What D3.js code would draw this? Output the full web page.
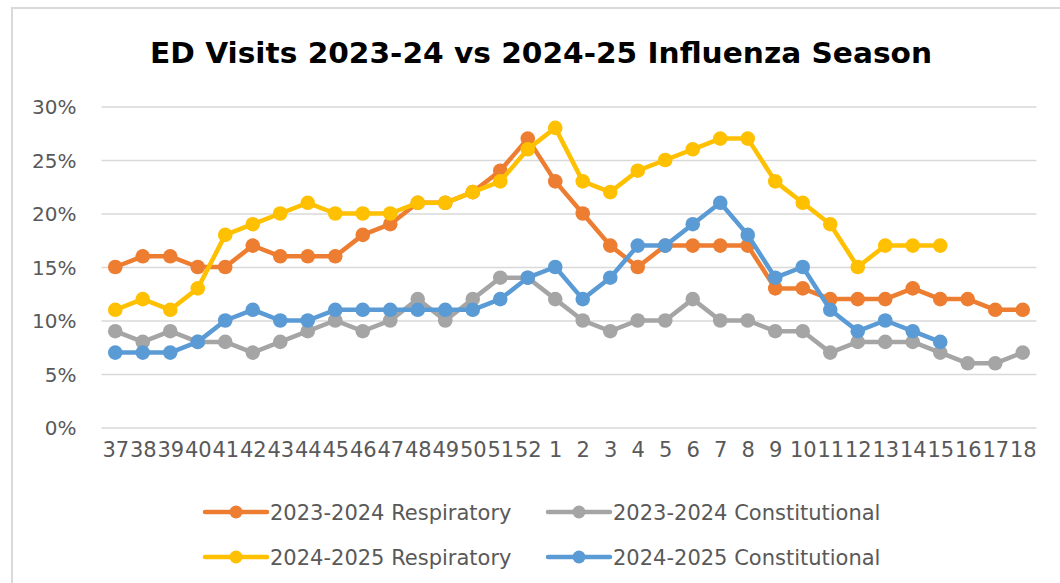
<!DOCTYPE html>
<html>
<head>
<meta charset="utf-8">
<script src="https://cdn.jsdelivr.net/npm/d3@7"></script>
<style>
  body { margin: 0; background: #fff; }
  svg { display: block; }
</style>
</head>
<body>
<svg width="1060" height="583"></svg>
<script>
// week numbers across the season
const weeks = ["37","38","39","40","41","42","43","44","45","46","47","48","49","50","51","52",
  "1","2","3","4","5","6","7","8","9","10","11","12","13","14","15","16","17","18"];

// percent of ED visits
const resp2324 = [15,16,16,15,15,17,16,16,16,18,19,21,21,22,24,27,23,20,17,15,17,17,17,17,13,13,12,12,12,13,12,12,11,11];
const const2324 = [9,8,9,8,8,7,8,9,10,9,10,12,10,12,14,14,12,10,9,10,10,12,10,10,9,9,7,8,8,8,7,6,6,7];
const resp2425 = [11,12,11,13,18,19,20,21,20,20,20,21,21,22,23,26,28,23,22,24,25,26,27,27,23,21,19,15,17,17,17];
const const2425 = [7,7,7,8,10,11,10,10,11,11,11,11,11,11,12,14,15,12,14,17,17,19,21,18,14,15,11,9,10,9,8];

const yTicks = [0, 0.05, 0.10, 0.15, 0.20, 0.25, 0.30];

const series = [
  { name: "2023-2024 Respiratory", values: resp2324, color: "#ED7D31" },
  { name: "2023-2024 Constitutional", values: const2324, color: "#A5A5A5" },
  { name: "2024-2025 Respiratory", values: resp2425, color: "#FFC000" },
  { name: "2024-2025 Constitutional", values: const2425, color: "#5B9BD5" }
];

const svg = d3.select("svg");
const font = "'DejaVu Sans', sans-serif";
const textColor = "#595959";

// chart frame
svg.append("rect")
  .attr("x", 12).attr("y", 8)
  .attr("width", 1070).attr("height", 600)
  .attr("fill", "none")
  .attr("stroke", "#d9d9d9")
  .attr("stroke-width", 2);

// title is drawn wide in the original, stretch it to fit
svg.append("text")
  .attr("x", 150).attr("y", 63)
  .attr("font-family", font)
  .attr("font-weight", "bold")
  .attr("font-size", 27.5)
  .attr("fill", "#000")
  .attr("textLength", 782)
  .attr("lengthAdjust", "spacingAndGlyphs")
  .text("ED Visits 2023-24 vs 2024-25 Influenza Season");

const plotLeft = 101.5, plotRight = 1036.5, plotTop = 106.5, plotBottom = 427.5;

let x = d3.scalePoint()
  .domain(weeks)
  .range([plotLeft, plotRight])
  .padding(0.5);

let y = d3.scaleLinear()
  .domain([0, 0.30])
  .range([plotBottom, plotTop]);

// y axis + gridlines
let yAxis = svg.append("g")
  .attr("transform", `translate(${plotLeft},0)`)
  .call(d3.axisLeft(y)
    .tickValues(yTicks)
    .tickFormat(d3.format(".0%"))
    .tickSize(-(plotRight - plotLeft))
    .tickPadding(25));
yAxis.select(".domain").remove();
yAxis.selectAll("line")
  .attr("stroke", "#d9d9d9")
  .attr("stroke-width", 1.5);
yAxis.selectAll("text")
  .attr("font-family", font)
  .attr("font-size", 20)
  .attr("fill", textColor)
  .attr("dy", "0.36em");

// x axis labels
let xAxis = svg.append("g")
  .attr("transform", `translate(0,${plotBottom})`)
  .call(d3.axisBottom(x).tickSize(0).tickPadding(22));
xAxis.select(".domain").remove();
xAxis.selectAll("text")
  .attr("font-family", font)
  .attr("font-size", 21)
  .attr("fill", textColor)
  .attr("dy", "0.36em");

// lines and markers
let line = d3.line()
  .x((d, i) => x(weeks[i]))
  .y(d => y(d / 100));

series.forEach(s => {
  let g = svg.append("g");
  g.append("path")
    .datum(s.values)
    .attr("fill", "none")
    .attr("stroke", s.color)
    .attr("stroke-width", 4.5)
    .attr("stroke-linejoin", "round")
    .attr("d", line);
  g.selectAll("circle")
    .data(s.values)
    .enter()
    .append("circle")
    .attr("cx", (d, i) => x(weeks[i]))
    .attr("cy", d => y(d / 100))
    .attr("r", 7.3)
    .attr("fill", s.color);
});

// legend, two rows of two
const legendPos = [[205, 512], [548, 512], [205, 557], [548, 557]];
series.forEach((s, i) => {
  let [lx, ly] = legendPos[i];
  let g = svg.append("g").attr("transform", `translate(${lx},${ly})`);
  g.append("line")
    .attr("x1", 0).attr("x2", 62)
    .attr("stroke", s.color)
    .attr("stroke-width", 4.5)
    .attr("stroke-linecap", "round");
  g.append("circle")
    .attr("cx", 31).attr("r", 6.5)
    .attr("fill", s.color);
  g.append("text")
    .attr("x", 65)
    .attr("dy", "0.36em")
    .attr("font-family", font)
    .attr("font-size", 21)
    .attr("fill", textColor)
    .text(s.name);
});
</script>
</body>
</html>
